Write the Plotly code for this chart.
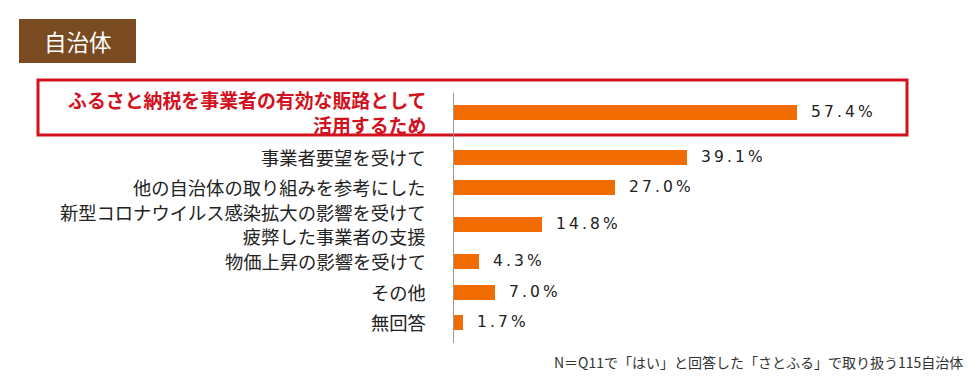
import plotly.graph_objects as go

# ---- data ----
categories = [
    "ふるさと納税を事業者の有効な販路として\n活用するため",
    "事業者要望を受けて",
    "他の自治体の取り組みを参考にした",
    "新型コロナウイルス感染拡大の影響を受けて\n疲弊した事業者の支援",
    "物価上昇の影響を受けて",
    "その他",
    "無回答",
]
values = [57.4, 39.1, 27.0, 14.8, 4.3, 7.0, 1.7]
title_text = "自治体"
note_text = "N＝Q11で「はい」と回答した「さとふる」で取り扱う115自治体"

# ---- layout (page body has an 8px margin; coordinates below are page pixels) ----
OFF = 8
W, H = 980 - OFF, 384 - OFF
row_y = [112, 157, 187, 224, 261, 292, 322]
ORANGE = "#f06c00"
RED = "#d2121f"
BROWN = "#7a4a20"
JP = "Noto Sans CJK JP, Noto Sans, sans-serif"


def px(x):
    return (x - OFF) / W


def py(y):
    return 1 - (y - OFF) / H


x0px, x1px = 453, 953
px_per_unit = 344 / 57.4
xmax = (x1px - x0px) / px_per_unit

fig = go.Figure()
fig.add_trace(go.Bar(
    x=values, y=row_y, orientation="h", width=15,
    marker=dict(color=ORANGE, line=dict(width=0)),
    hoverinfo="skip",
))


def thin(s):
    return "\u2009".join(list(s))


annotations = []
for i, (cat, v, y) in enumerate(zip(categories, values, row_y)):
    first = i == 0
    color = RED if first else "#222222"
    annotations.append(dict(
        x=px(428), xref="paper", y=y, yref="y", text=cat.replace("\n", "<br>"),
        xanchor="right", yanchor="middle", align="right", showarrow=False,
        font=dict(family=JP, size=18.9 if first else 18.3, color=color,
                  weight="bold" if first else "normal"),
    ))
    annotations.append(dict(
        x=v, xref="x", y=y, yref="y", text=thin(f"{v:.1f}%"),
        xanchor="left", yanchor="middle", showarrow=False, xshift=12,
        font=dict(family="DejaVu Sans, Verdana, sans-serif", size=15.5, color="#222222"),
    ))

annotations.append(dict(
    x=px(77.5), xref="paper", y=py(41), yref="paper", text=title_text,
    xanchor="center", yanchor="middle", showarrow=False,
    font=dict(family=JP, size=22.5, color="white"),
))
annotations.append(dict(
    x=px(965), xref="paper", y=py(362), yref="paper", text=note_text,
    xanchor="right", yanchor="middle", showarrow=False,
    font=dict(family=JP, size=14, color="#333333"),
))

shapes = [
    dict(type="rect", xref="paper", yref="paper",
         x0=px(19), x1=px(136), y0=py(63), y1=py(19),
         fillcolor=BROWN, line=dict(width=0), layer="below"),
    dict(type="rect", xref="paper", yref="paper",
         x0=px(38), x1=px(907), y0=py(135), y1=py(80),
         fillcolor="rgba(0,0,0,0)", line=dict(color=RED, width=3)),
    dict(type="line", xref="x", yref="y", x0=0, x1=0, y0=93, y1=343,
         line=dict(color="#999999", width=2)),
]

fig.update_layout(
    width=W, height=H, margin=dict(l=0, r=0, t=0, b=0),
    paper_bgcolor="white", plot_bgcolor="white",
    showlegend=False, bargap=0,
    xaxis=dict(domain=[px(x0px), px(x1px)], range=[0, xmax], visible=False, fixedrange=True),
    yaxis=dict(domain=[0, 1], range=[H + OFF, OFF], visible=False, fixedrange=True),
    annotations=annotations, shapes=shapes,
)

fig.write_html("out.html")
